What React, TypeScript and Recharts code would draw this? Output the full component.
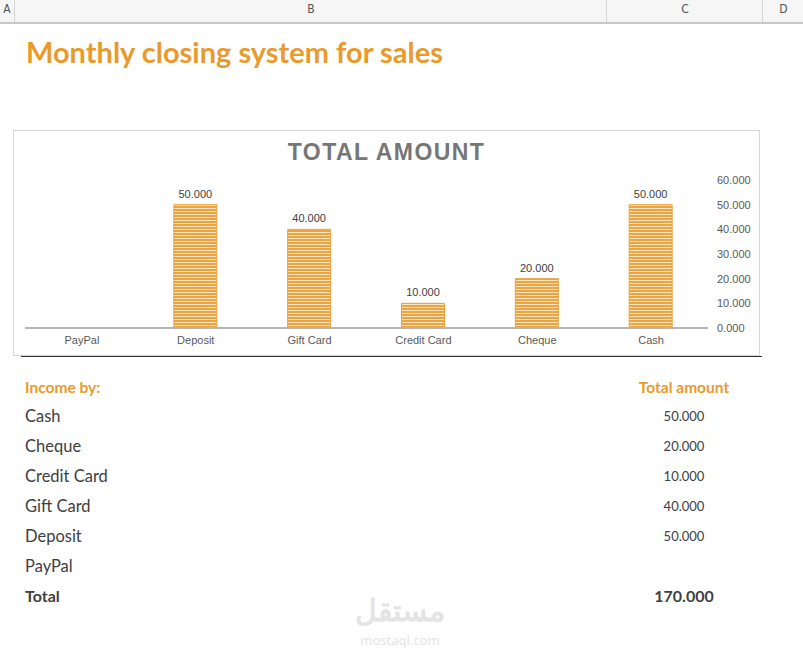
import { Bar, BarChart, LabelList, XAxis, YAxis } from "recharts";

// table order (as listed under "Income by:")
const methods = ["Cash", "Cheque", "Credit Card", "Gift Card", "Deposit", "PayPal"];
const amounts: (number | null)[] = [50, 20, 10, 40, 50, null];
const yTicks = [0, 10, 20, 30, 40, 50, 60];
const columns = [
  { label: "A", x: 0, w: 14 },
  { label: "B", x: 14, w: 592 },
  { label: "C", x: 606, w: 156 },
  { label: "D", x: 762, w: 41 },
];

const orange = "#E99A2C";
const fmt = (v: unknown) => (v == null || v === "" ? "" : Number(v).toFixed(3));

// chart shows the categories in reverse table order
const chartData = methods
  .map((name, i) => ({ name, value: amounts[i] }))
  .reverse();

const total = amounts.reduce<number>((s, v) => s + (v ?? 0), 0);

const calibri = "Lato, 'Open Sans', sans-serif";
const arial = "'Liberation Sans', Arial, sans-serif";

export default function App() {
  return (
    <div
      style={{
        position: "fixed",
        left: 0,
        top: 0,
        width: 803,
        height: 663,
        background: "#fff",
        overflow: "hidden",
      }}
    >
      <svg width={0} height={0} style={{ position: "absolute" }}>
        <defs>
          <pattern id="stripes" patternUnits="userSpaceOnUse" width={4} height={3}>
            <rect x={0} y={0} width={4} height={3} fill="#FBE6C4" />
            <rect x={0} y={0} width={4} height={2} fill="#EBA443" />
          </pattern>
        </defs>
      </svg>

      {/* spreadsheet column header */}
      <div
        style={{
          position: "absolute",
          left: 0,
          top: 0,
          width: 803,
          height: 22,
          background: "#F6F6F6",
          borderBottom: "2px solid #C8C8C8",
        }}
      >
        {columns.map((c) => (
          <div
            key={c.label}
            style={{
              position: "absolute",
              left: c.x,
              top: 0,
              width: c.w,
              height: 22,
              borderLeft: c.x > 0 ? "1px solid #D4D4D4" : "none",
              textAlign: "center",
              lineHeight: "18px",
              fontFamily: "'DejaVu Sans Condensed', 'Liberation Sans Narrow', sans-serif",
              fontSize: 12,
              color: "#555",
            }}
          >
            {c.label}
          </div>
        ))}
      </div>

      <div
        style={{
          position: "absolute",
          left: 26,
          top: 34,
          fontFamily: calibri,
          fontWeight: 700,
          fontSize: 29,
          lineHeight: "36px",
          color: orange,
          whiteSpace: "nowrap",
        }}
      >
        Monthly closing system for sales
      </div>

      {/* chart box */}
      <div
        style={{
          position: "absolute",
          left: 13,
          top: 130,
          width: 745,
          height: 224,
          border: "1px solid #D6D6D6",
        }}
      >
        <div
          style={{
            position: "absolute",
            left: 0,
            top: 8,
            width: 745,
            textAlign: "center",
            fontFamily: arial,
            fontWeight: 700,
            fontSize: 23,
            letterSpacing: 1.4,
            color: "#767676",
          }}
        >
          TOTAL AMOUNT
        </div>
        <BarChart
          width={745}
          height={224}
          data={chartData}
          margin={{ top: 49, right: 0, bottom: 0, left: 11 }}
          barCategoryGap={0}
        >
          <XAxis
            dataKey="name"
            height={27}
            axisLine={{ stroke: "#B5B5B5", strokeWidth: 2 }}
            tickLine={false}
            tickSize={6}
            tickMargin={2}
            interval={0}
            tick={{ fontFamily: arial, fontSize: 11, fill: "#595959" }}
          />
          <YAxis
            orientation="right"
            domain={[0, 60]}
            ticks={yTicks}
            width={51}
            axisLine={false}
            tickLine={false}
            tickSize={6}
            tickMargin={3}
            tickFormatter={(v) => Number(v).toFixed(3)}
            tick={{ fontFamily: arial, fontSize: 11, fill: "#595959", textAnchor: "start" }}
          />
          <Bar
            dataKey="value"
            barSize={43}
            fill="url(#stripes)"
            stroke="#E9A23A"
            strokeWidth={1}
            isAnimationActive={false}
          >
            <LabelList
              dataKey="value"
              position="top"
              offset={7}
              formatter={fmt}
              style={{ fontFamily: arial, fontSize: 11, fill: "#404040" }}
            />
          </Bar>
        </BarChart>
      </div>
      <div
        style={{
          position: "absolute",
          left: 21,
          top: 356,
          width: 741,
          height: 0,
          borderTop: "1px solid #333",
        }}
      />

      {/* table */}
      <div
        style={{
          position: "absolute",
          left: 25,
          top: 378,
          fontFamily: calibri,
          fontWeight: 700,
          fontSize: 15.5,
          color: orange,
        }}
      >
        Income by:
      </div>
      <div
        style={{
          position: "absolute",
          left: 606,
          width: 156,
          top: 378,
          textAlign: "center",
          fontFamily: calibri,
          fontWeight: 700,
          fontSize: 15.5,
          color: orange,
        }}
      >
        Total amount
      </div>
      {methods.map((m, i) => (
        <div key={m}>
          <div
            style={{
              position: "absolute",
              left: 25,
              top: 406 + i * 30,
              fontFamily: calibri,
              fontSize: 16.5,
              color: "#404040",
            }}
          >
            {m}
          </div>
          <div
            style={{
              position: "absolute",
              left: 606,
              width: 156,
              top: 408 + i * 30,
              textAlign: "center",
              fontFamily: calibri,
              fontSize: 13,
              color: "#404040",
            }}
          >
            {fmt(amounts[i])}
          </div>
        </div>
      ))}
      <div
        style={{
          position: "absolute",
          left: 25,
          top: 586,
          fontFamily: calibri,
          fontWeight: 700,
          fontSize: 16,
          color: "#404040",
        }}
      >
        Total
      </div>
      <div
        style={{
          position: "absolute",
          left: 606,
          width: 156,
          top: 586,
          textAlign: "center",
          fontFamily: calibri,
          fontWeight: 700,
          fontSize: 16,
          color: "#404040",
        }}
      >
        {fmt(total)}
      </div>

      {/* watermark */}
      <div
        style={{
          position: "absolute",
          left: 340,
          top: 594,
          width: 120,
          textAlign: "center",
          color: "#E4E4E4",
          fontFamily: "'Noto Sans', sans-serif",
          fontSize: 30,
          fontWeight: 700,
          lineHeight: "32px",
        }}
      >
        مستقل
      </div>
      <div
        style={{
          position: "absolute",
          left: 340,
          top: 633,
          width: 120,
          textAlign: "center",
          color: "#E4E4E4",
          fontFamily: "'Noto Sans', sans-serif",
          fontSize: 13,
          lineHeight: "15px",
        }}
      >
        mostaql.com
      </div>
    </div>
  );
}
